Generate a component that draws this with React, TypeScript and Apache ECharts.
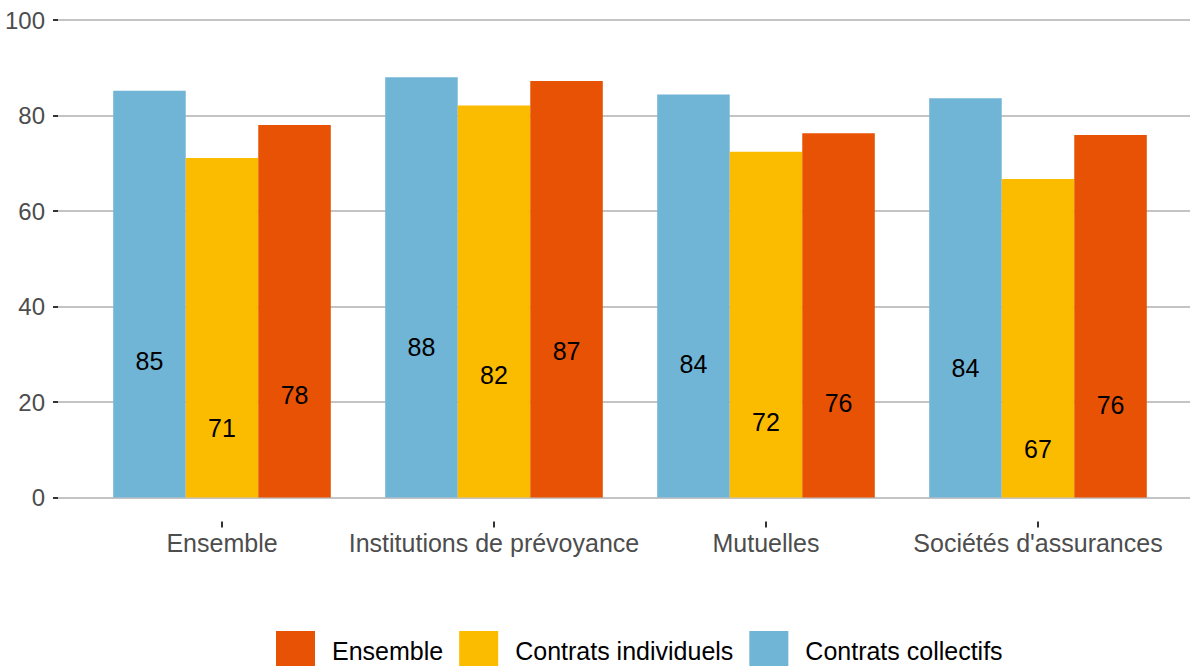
import React, { useEffect, useRef } from "react";
import * as echarts from "echarts";

const categories = ["Ensemble", "Institutions de prévoyance", "Mutuelles", "Sociétés d'assurances"];
const collectifs = [85.2, 88.0, 84.4, 83.6];
const individuels = [71.1, 82.1, 72.4, 66.7];
const ensemble = [78.0, 87.2, 76.3, 75.9];
const yTicks = { min: 0, max: 100, interval: 20 };
const legendOrder = ["Ensemble", "Contrats individuels", "Contrats collectifs"];

const COLORS = { collectifs: "#70B4D6", individuels: "#FBBC00", ensemble: "#E85204" };
const FONT = "'Liberation Sans', Arial, sans-serif";

export default function App() {
  const ref = useRef<HTMLDivElement>(null);
  useEffect(() => {
    const chart = echarts.init(ref.current!, null, { renderer: "svg" });
    const label = {
      show: true,
      position: ["50%", 270] as any,
      align: "center",
      verticalAlign: "middle",
      color: "#000",
      fontSize: 25,
      fontFamily: FONT,
      formatter: (p: any) => String(Math.round(p.value)),
    };
    const mk = (name: string, data: number[], color: string) => ({
      name,
      type: "bar",
      xAxisIndex: 1,
      yAxisIndex: 1,
      data,
      barGap: "0%",
      barCategoryGap: "20%",
      itemStyle: { color },
      label,
    });
    chart.setOption({
      animation: false,
      backgroundColor: "#fff",
      textStyle: { fontFamily: FONT },
      grid: [
        { left: 58, right: 0, top: 20, bottom: 168.5 },
        { left: 86, right: 16, top: 20, bottom: 168.5 },
      ],
      xAxis: [
        { gridIndex: 0, type: "value", show: false, min: 0, max: 1 },
        {
          gridIndex: 1,
          type: "category",
          data: categories,
          offset: 24,
          axisLine: { show: false, onZero: false },
          axisTick: { show: true, alignWithLabel: true, length: 6, lineStyle: { color: "#333", width: 2 } },
          axisLabel: { color: "#4d4d4d", fontSize: 25, fontFamily: FONT, margin: 9, interval: 0 },
        },
      ],
      yAxis: [
        {
          gridIndex: 0,
          type: "value",
          min: yTicks.min,
          max: yTicks.max,
          interval: yTicks.interval,
          axisLine: { show: false },
          axisTick: { show: true, length: 5, lineStyle: { color: "#333", width: 2 } },
          axisLabel: { color: "#4d4d4d", fontSize: 24, fontFamily: FONT, margin: 13 },
          splitLine: { show: true, lineStyle: { color: "#c4c4c4", width: 2 } },
        },
        {
          gridIndex: 1,
          type: "value",
          min: yTicks.min,
          max: yTicks.max,
          interval: yTicks.interval,
          show: false,
          splitLine: { show: false },
        },
      ],
      legend: {
        data: legendOrder,
        left: 276,
        top: 631,
        padding: 0,
        icon: "rect",
        itemWidth: 39,
        itemHeight: 39,
        itemGap: 16,
        textStyle: {
          color: "#000",
          fontSize: 25,
          lineHeight: 24,
          fontFamily: FONT,
          padding: [0, 0, 0, 12],
        },
      },
      series: [
        mk("Contrats collectifs", collectifs, COLORS.collectifs),
        mk("Contrats individuels", individuels, COLORS.individuels),
        mk("Ensemble", ensemble, COLORS.ensemble),
      ],
    });
    return () => chart.dispose();
  }, []);
  return (
    <div
      ref={ref}
      style={{ position: "fixed", left: 0, top: 0, width: 1190, height: 666 }}
    />
  );
}
